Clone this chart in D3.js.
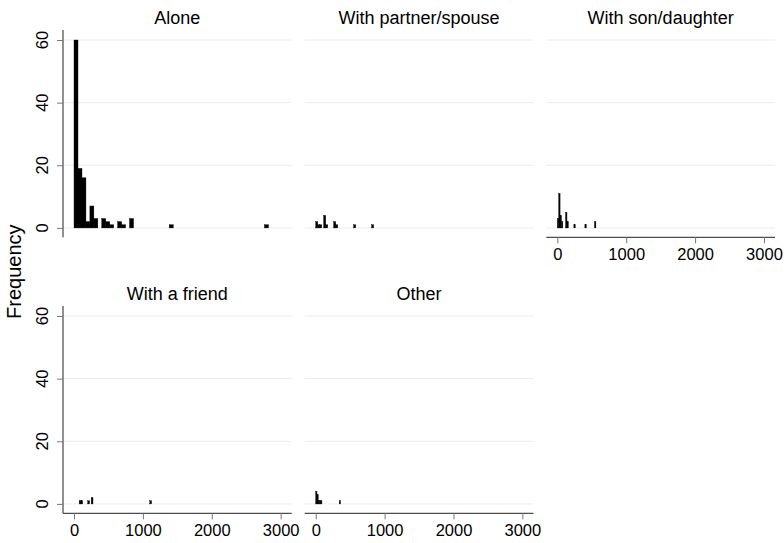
<!DOCTYPE html>
<html>
<head>
<meta charset="utf-8">
<script src="https://cdn.jsdelivr.net/npm/d3@7"></script>
<style>
  body { margin: 0; background: #fff; }
  text { font-family: "Liberation Sans", Arial, sans-serif; fill: #000; }
</style>
</head>
<body>
<svg id="chart" width="784" height="543"></svg>
<script>
// values
const panelTitles = ["Alone", "With partner/spouse", "With son/daughter", "With a friend", "Other"];
const xTicks = [0, 1000, 2000, 3000];
const yTicks = [0, 20, 40, 60];

// each panel: bin width, bin index list, frequency per bin
const aloneWidth = 57.6;
const aloneBins = [0, 1, 2, 3, 4, 5, 7, 8, 9, 11, 12, 14, 24, 48];
const aloneFreq = [60, 19, 16, 2, 7, 3, 3, 2, 1, 2, 1, 3, 1, 1];

const partnerWidth = 29;
const partnerBins = [0, 1, 2, 4, 5, 9, 10, 19, 28];
const partnerFreq = [2, 1, 1, 4, 1, 2, 1, 1, 1];

const childWidth = 20;
const childBins = [0, 1, 2, 3, 6, 7, 12, 20, 27];
const childFreq = [3, 11, 4, 2, 5, 2, 1, 1, 2];

const friendWidth = 25;
const friendBins = [3, 4, 8, 10, 44];
const friendFreq = [1, 1, 1, 2, 1];

const otherWidth = 18;
const otherBins = [0, 1, 2, 3, 4, 19];
const otherFreq = [4, 3, 1, 1, 1, 1];

const colLeft = [63, 304.7, 546.3];
const rowTop = [30, 306];
const plotW = 228.7, plotH = 207.3;

const panels = [
  {title: panelTitles[0], col: 0, row: 0, w: aloneWidth, bins: aloneBins, freq: aloneFreq, yAxis: true, xAxis: false},
  {title: panelTitles[1], col: 1, row: 0, w: partnerWidth, bins: partnerBins, freq: partnerFreq, yAxis: false, xAxis: false},
  {title: panelTitles[2], col: 2, row: 0, w: childWidth, bins: childBins, freq: childFreq, yAxis: false, xAxis: true},
  {title: panelTitles[3], col: 0, row: 1, w: friendWidth, bins: friendBins, freq: friendFreq, yAxis: true, xAxis: true},
  {title: panelTitles[4], col: 1, row: 1, w: otherWidth, bins: otherBins, freq: otherFreq, yAxis: false, xAxis: true}
];

const svg = d3.select("#chart");
svg.append("rect").attr("width", 784).attr("height", 543).attr("fill", "#fff");

panels.forEach(p => {
  const x0 = colLeft[p.col], y0 = rowTop[p.row];
  const x = d3.scaleLinear().domain([-160, 3160]).range([x0, x0 + plotW]);
  const y = d3.scaleLinear().domain([-3, 63.2]).range([y0 + plotH, y0]);
  const g = svg.append("g");

  // grid lines
  g.selectAll(".grid").data(yTicks).enter().append("line")
    .attr("x1", x0).attr("x2", x0 + plotW)
    .attr("y1", d => y(d)).attr("y2", d => y(d))
    .attr("stroke", "#e6eef0").attr("stroke-width", 1);

  // bars
  g.selectAll(".bar").data(p.bins.map((b, i) => ({b, f: p.freq[i]}))).enter().append("rect")
    .attr("x", d => x(d.b * p.w))
    .attr("width", d => x((d.b + 1) * p.w) - x(d.b * p.w))
    .attr("y", d => y(d.f))
    .attr("height", d => y(0) - y(d.f))
    .attr("fill", "#000").attr("stroke", "#000").attr("stroke-width", 0.4);

  // panel title
  g.append("text").attr("x", x0 + plotW / 2).attr("y", y0 - 6)
    .attr("text-anchor", "middle").style("font-size", "18px").text(p.title);

  if (p.yAxis) {
    const ax = g.append("g").attr("transform", `translate(${x0},0)`)
      .call(d3.axisLeft(y).tickValues(yTicks).tickSize(6).tickFormat(d3.format("d")));
    ax.select(".domain").attr("d", `M0,${y0}V${y0 + plotH}`).attr("stroke", "#222");
    ax.selectAll(".tick line").attr("stroke", "#777");
    ax.selectAll(".tick text").remove();
    g.selectAll(".ylab").data(yTicks).enter().append("text")
      .attr("transform", d => `translate(48,${y(d)}) rotate(-90)`)
      .attr("text-anchor", "middle").style("font-size", "16.5px").text(d => d);
  }
  if (p.xAxis) {
    const ax = g.append("g").attr("transform", `translate(0,${y0 + plotH})`)
      .call(d3.axisBottom(x).tickValues(xTicks).tickSize(6).tickFormat(d3.format("d")));
    ax.select(".domain").attr("d", `M${x0},0H${x0 + plotW}`).attr("stroke", "#222");
    ax.selectAll(".tick line").attr("stroke", "#777");
    ax.selectAll(".tick text").attr("y", 11).attr("dy", "0.71em")
      .style("font-size", "16.5px").attr("fill", "#000").style("font-family", "'Liberation Sans', Arial, sans-serif");
  }
});

svg.append("text")
  .attr("transform", `translate(21,${(rowTop[0] + rowTop[1] + plotH) / 2}) rotate(-90)`)
  .attr("text-anchor", "middle").style("font-size", "20px").text("Frequency");
</script>
</body>
</html>
